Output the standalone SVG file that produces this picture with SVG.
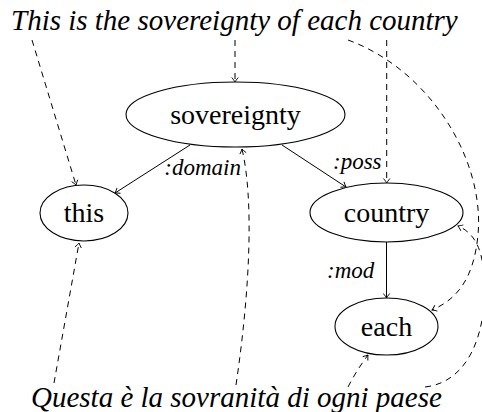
<svg xmlns="http://www.w3.org/2000/svg" width="482" height="412" viewBox="0 0 482 412">
<defs>
<marker id="arr" viewBox="-6 -5 8 10" markerWidth="8" markerHeight="10" refX="0" refY="0" orient="auto" markerUnits="userSpaceOnUse">
<path d="M-4.5,-3.2 Q-1.5,-0.8 0,0 Q-1.5,0.8 -4.5,3.2" fill="none" stroke="#000" stroke-width="0.9"/>
</marker>
<style>
.node{fill:#fff;stroke:#000;stroke-width:1.1}
.nt{font-family:"Liberation Serif","Times New Roman",serif;font-size:28px;text-anchor:middle;fill:#000}
.sent{font-family:"Liberation Serif","Times New Roman",serif;font-size:29px;font-style:italic;fill:#000}
.lbl{font-family:"Liberation Serif","Times New Roman",serif;font-size:23px;font-style:italic;fill:#000}
.e{fill:none;stroke:#000;stroke-width:1;marker-end:url(#arr)}
.d{fill:none;stroke:#000;stroke-width:1;stroke-dasharray:6,5;marker-end:url(#arr)}
</style>
</defs>
<rect width="482" height="412" fill="#fff"/>
<text class="sent" x="11" y="30">This is the sovereignty of each country</text>
<text class="sent" x="31" y="407">Questa è la sovranità di ogni paese</text>
<g id="connectors">
<path class="e" d="M190,145 L115,193"/>
<path class="e" d="M282,145 L346,187"/>
<path class="e" d="M386.5,242 L386.5,298"/>
<text class="lbl" x="241" y="175" text-anchor="end">:domain</text>
<text class="lbl" x="333" y="169">:poss</text>
<text class="lbl" x="327" y="278">:mod</text>
<path class="d" d="M32,40 L76,185"/>
<path class="d" d="M235,40 L235,82"/>
<path class="d" d="M386.7,40 L386.7,183"/>
<path class="d" d="M348,40 C430,70 485,160 478,235 C474,275 460,298 432,310"/>
<path class="d" d="M54,383 L79,243"/>
<path class="d" d="M236,385 C250,290 254,200 242,149"/>
<path class="d" d="M348,387 C354,375 362,363 368,355"/>
<path class="d" d="M425,387 C470,382 488,330 484,275 C482,245 472,232 458,226"/>
</g>
<g id="sovereignty"><ellipse class="node" cx="235.5" cy="114.5" rx="109.5" ry="32.5"/><text class="nt" x="235.5" y="124">sovereignty</text></g>
<g id="this"><ellipse class="node" cx="84" cy="213" rx="44" ry="28"/><text class="nt" x="84" y="222">this</text></g>
<g id="country"><ellipse class="node" cx="386.5" cy="212.5" rx="76.5" ry="29.5"/><text class="nt" x="386.5" y="222">country</text></g>
<g id="each"><ellipse class="node" cx="386.5" cy="326.5" rx="51.5" ry="28.5"/><text class="nt" x="386.5" y="336">each</text></g>
</svg>
